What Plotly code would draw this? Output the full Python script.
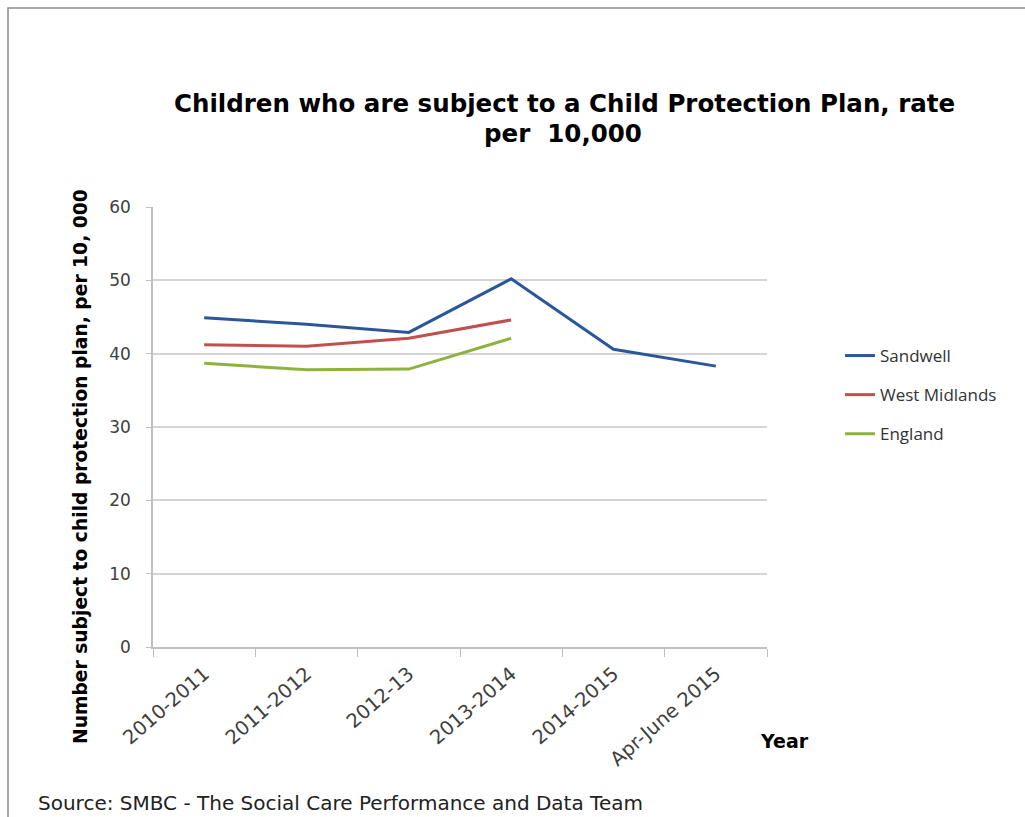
import plotly.graph_objects as go

categories = ["2010-2011", "2011-2012", "2012-13", "2013-2014", "2014-2015", "Apr-June 2015"]
sandwell = [44.9, 44.0, 42.9, 50.2, 40.6, 38.3]
west_midlands = [41.2, 41.0, 42.1, 44.6, None, None]
england = [38.7, 37.8, 37.9, 42.1, None, None]
y_ticks = [0, 10, 20, 30, 40, 50, 60]

FONT = "DejaVu Sans, Liberation Sans, sans-serif"
L, R, T, B = 153, 767, 207, 647
W, H = 1025, 817
pw, ph = R - L, B - T

def px(x):
    return (x - L) / pw

def py(y):
    return (B - y) / ph

fig = go.Figure()
fig.add_trace(go.Scatter(x=categories, y=sandwell, name="Sandwell", mode="lines", legendgroup="a",
                         line=dict(color="#2B579A", width=3)))
fig.add_trace(go.Scatter(x=categories, y=west_midlands, name="West Midlands", mode="lines", legendgroup="b",
                         line=dict(color="#C0504D", width=3)))
fig.add_trace(go.Scatter(x=categories, y=england, name="England", mode="lines", legendgroup="c",
                         line=dict(color="#8DB33F", width=3)))

fig.update_layout(
    width=W, height=H,
    margin=dict(l=L, r=W - R, t=T, b=H - B),
    paper_bgcolor="white", plot_bgcolor="white",
    font=dict(family=FONT, color="#404040"),
    showlegend=True,
    legend=dict(x=px(840), y=py(338), xanchor="left", yanchor="top",
                font=dict(family="Open Sans, sans-serif", size=17, color="#333333"),
                traceorder="grouped", tracegroupgap=14, bgcolor="rgba(0,0,0,0)"),
    xaxis=dict(type="category", range=[-0.5, 5.5], tickson="boundaries",
               ticks="outside", ticklen=8, tickcolor="#bfbfbf",
               showline=True, linecolor="#bfbfbf", linewidth=1.5,
               showgrid=False, tickangle=-41, ticklabelstandoff=6,
               tickfont=dict(family=FONT, size=19.5, color="#404040")),
    yaxis=dict(range=[0, 60], tickvals=y_ticks, ticks="outside", ticklen=5,
               tickcolor="#bfbfbf", showline=True, linecolor="#bfbfbf", linewidth=1.5,
               showgrid=True, gridcolor="#d4d4d4", gridwidth=1.5, zeroline=False,
               tickfont=dict(family=FONT, size=17, color="#404040"), ticklabelstandoff=12),
)

fig.add_annotation(text="<b>Children who are subject to a Child Protection Plan, rate</b>",
                   xref="paper", yref="paper", x=px(564), y=py(104), xanchor="center", yanchor="middle",
                   showarrow=False, font=dict(family=FONT, size=24.5, color="black"))
fig.add_annotation(text="<b>per  10,000</b>",
                   xref="paper", yref="paper", x=px(563), y=py(133), xanchor="center", yanchor="middle",
                   showarrow=False, font=dict(family=FONT, size=24.5, color="black"))
fig.add_annotation(text="<b>Number subject to child protection plan, per 10, 000</b>",
                   xref="paper", yref="paper", x=px(81), y=py(467), textangle=-90,
                   xanchor="center", yanchor="middle", showarrow=False,
                   font=dict(family=FONT, size=18.7, color="black"))
fig.add_annotation(text="<b>Year</b>", xref="paper", yref="paper", x=px(784), y=py(741),
                   xanchor="center", yanchor="middle", showarrow=False,
                   font=dict(family=FONT, size=19, color="black"))
fig.add_annotation(text="Source: SMBC - The Social Care Performance and Data Team",
                   xref="paper", yref="paper", x=px(36), y=py(803), xanchor="left", yanchor="middle",
                   showarrow=False, font=dict(family=FONT, size=20, color="#222222"))

fig.add_shape(type="rect", xref="paper", yref="paper",
              x0=px(8), x1=px(1040), y0=py(840), y1=py(8),
              line=dict(color="#8c8c8c", width=1.5), layer="below")

fig.write_html("out.html")
